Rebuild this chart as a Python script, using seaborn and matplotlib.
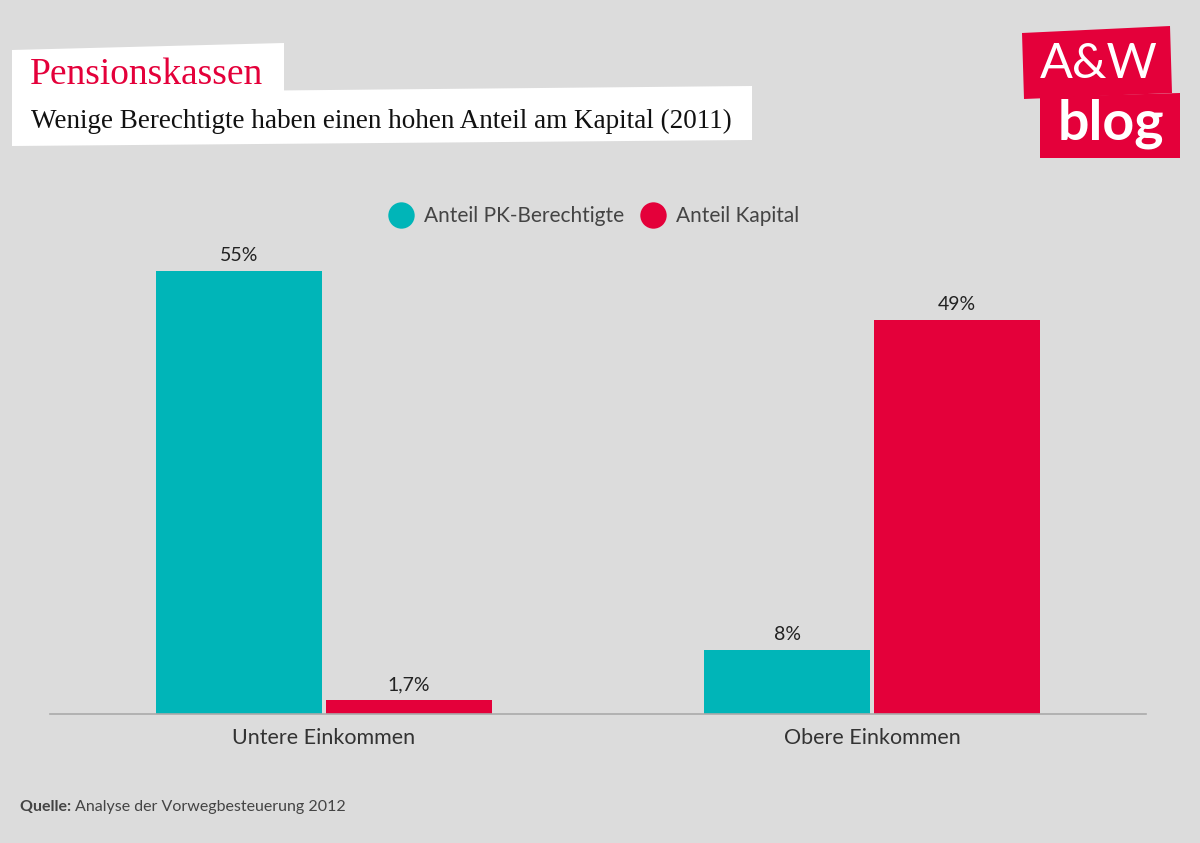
import matplotlib
matplotlib.use("Agg")
import matplotlib.pyplot as plt
from matplotlib.patches import Polygon
from matplotlib.lines import Line2D
from matplotlib import font_manager
import seaborn as sns
import pandas as pd

categories = ["Untere Einkommen", "Obere Einkommen"]
series = ["Anteil PK-Berechtigte", "Anteil Kapital"]
values_pk = [55, 8]
values_kapital = [1.7, 49]
labels_pk = ["55%", "8%"]
labels_kapital = ["1,7%", "49%"]
colors = ["#00b5b8", "#e4003a"]

title = "Pensionskassen"
subtitle = "Wenige Berechtigte haben einen hohen Anteil am Kapital (2011)"
source_bold = "Quelle:"
source_text = "Analyse der Vorwegbesteuerung 2012"

df = pd.DataFrame({
    "Kategorie": categories * 2,
    "Serie": [series[0]] * 2 + [series[1]] * 2,
    "Wert": values_pk + values_kapital,
})

sns.set_theme(style="white")
BG = "#dcdcdc"
avail = {f.name for f in font_manager.fontManager.ttflist}
sans = "Lato" if "Lato" in avail else "DejaVu Sans"
serif = "DejaVu Serif Condensed" if "DejaVu Serif Condensed" in avail else "Liberation Serif"
plt.rcParams["font.family"] = [sans, "DejaVu Sans"]

W, H = 1200, 843
fig = plt.figure(figsize=(W / 100, H / 100), dpi=100, facecolor=BG)

def fx(x):
    return x / W

def fy(y):
    return 1 - y / H

ax = fig.add_axes([fx(50), fy(714), fx(1146) - fx(50), fy(231) - fy(714)])
ax.set_facecolor(BG)
sns.barplot(data=df, x="Kategorie", y="Wert", hue="Serie", order=categories,
            hue_order=series, palette=colors, width=0.62, gap=0.025,
            saturation=1, ax=ax, legend=False, edgecolor="none")
ax.set_xlim(-0.5, 1.5)
ax.set_ylim(0, 60)
for s in ["top", "right", "left"]:
    ax.spines[s].set_visible(False)
ax.spines["bottom"].set_color("#aaaaaa")
ax.spines["bottom"].set_linewidth(1.2)
ax.set_yticks([])
ax.set_xlabel("")
ax.set_ylabel("")
ax.tick_params(axis="x", length=0, pad=10, labelsize=15.5, labelcolor="#333333")

for cont, labs in zip(ax.containers, [labels_pk, labels_kapital]):
    ax.bar_label(cont, labels=labs, padding=5, fontsize=14, color="#222222")

# legend
handles = [Line2D([0], [0], marker="o", linestyle="none", markersize=19,
                  markerfacecolor=c, markeredgecolor="none") for c in colors]
fig.legend(handles, series, loc="center", bbox_to_anchor=(fx(595), fy(216)),
           ncol=2, frameon=False, fontsize=15, labelcolor="#444444",
           handletextpad=0.6, columnspacing=0.9, handlelength=1.0)

# title boxes
fig.patches.append(Polygon([(fx(12), fy(50)), (fx(284), fy(43)), (fx(284), fy(95)), (fx(12), fy(97))],
                           closed=True, transform=fig.transFigure, facecolor="white", edgecolor="none", zorder=1))
fig.patches.append(Polygon([(fx(12), fy(93)), (fx(752), fy(86)), (fx(752), fy(140)), (fx(12), fy(146))],
                           closed=True, transform=fig.transFigure, facecolor="white", edgecolor="none", zorder=1))
fig.text(fx(30), fy(84), title, family=[serif, "DejaVu Serif"], fontsize=27, color="#e4003a", zorder=3)
fig.text(fx(31), fy(128), subtitle, family=[serif, "DejaVu Serif"], fontsize=19.5, color="#111111", zorder=3)

# logo
fig.patches.append(Polygon([(fx(1022), fy(33)), (fx(1170), fy(26)), (fx(1172), fy(93)), (fx(1024), fy(99))],
                           closed=True, transform=fig.transFigure, facecolor="#e4003a", edgecolor="none", zorder=1))
fig.patches.append(Polygon([(fx(1040), fy(97)), (fx(1180), fy(93)), (fx(1180), fy(158)), (fx(1040), fy(158))],
                           closed=True, transform=fig.transFigure, facecolor="#e4003a", edgecolor="none", zorder=1))
fig.text(fx(1099), fy(64), "A&W", ha="center", va="center", fontsize=35, color="white", zorder=3)
fig.text(fx(1111), fy(124), "blog", ha="center", va="center", fontsize=40, fontweight="bold", color="white", zorder=3)

# source
t = fig.text(fx(20), fy(811), source_bold + " ", fontsize=11.5, fontweight="bold", color="#444444")
fig.canvas.draw()
bb = t.get_window_extent()
fig.text(bb.x1 / W, fy(811), source_text, fontsize=11.5, color="#444444")

fig.savefig("out.png", dpi=100, facecolor=BG)
